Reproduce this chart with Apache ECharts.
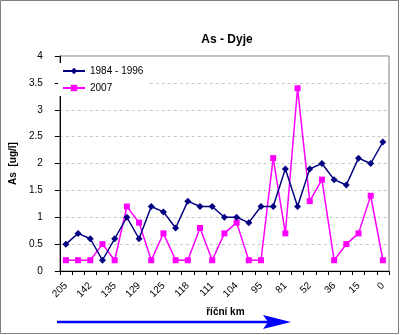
<!DOCTYPE html>
<html>
<head>
<meta charset="utf-8">
<script src="https://cdn.jsdelivr.net/npm/echarts@6/dist/echarts.min.js"></script>
<style>
  html, body { margin: 0; padding: 0; background: #fff; }
  #chart { width: 400px; height: 335px; }
</style>
</head>
<body>
<div id="chart"></div>
<script>
// River km tick labels (every second station is labelled)
var kmLabels = ['205', '142', '135', '129', '125', '118', '111', '104', '95', '81', '52', '36', '15', '0'];

// 27 sampling stations along the river
var stationCount = 27;

// Arsenic concentrations, µg/l
var as1984_1996 = [0.5, 0.7, 0.6, 0.2, 0.6, 1.0, 0.6, 1.2, 1.1, 0.8, 1.3, 1.2, 1.2, 1.0, 1.0, 0.9, 1.2, 1.2, 1.9, 1.2, 1.9, 2.0, 1.7, 1.6, 2.1, 2.0, 2.4];
var as2007 = [0.2, 0.2, 0.2, 0.5, 0.2, 1.2, 0.9, 0.2, 0.7, 0.2, 0.2, 0.8, 0.2, 0.7, 0.9, 0.2, 0.2, 2.1, 0.7, 3.4, 1.3, 1.7, 0.2, 0.5, 0.7, 1.4, 0.2];

var seriesNames = ['1984 - 1996', '2007'];

var categories = [];
for (var i = 0; i < stationCount; i++) {
  categories.push(i % 2 === 0 ? kmLabels[i / 2] : ' '.repeat((i + 1) / 2));
}

var FONT = 'Arial, "Liberation Sans", sans-serif';

var chart = echarts.init(document.getElementById('chart'), null, { renderer: 'canvas' });

chart.setOption({
  backgroundColor: '#ffffff',
  animation: false,
  title: {
    text: 'As - Dyje',
    left: 222,
    top: 29,
    textAlign: 'center',
    textStyle: { fontFamily: FONT, fontSize: 12, fontWeight: 'bold', color: '#000' }
  },
  legend: {
    orient: 'vertical',
    left: 58,
    top: 63,
    padding: [3, 4, 3, 4],
    backgroundColor: '#ffffff',
    itemWidth: 22,
    itemHeight: 8,
    itemGap: 7,
    textStyle: { fontFamily: FONT, fontSize: 10, color: '#000' },
    data: seriesNames
  },
  grid: {
    left: 55,
    right: 11,
    top: 56,
    bottom: 64,
    show: true,
    borderColor: '#808080',
    borderWidth: 1,
    backgroundColor: 'transparent'
  },
  xAxis: {
    type: 'category',
    data: categories,
    boundaryGap: true,
    name: 'říční km',
    nameLocation: 'middle',
    nameGap: 36,
    nameTextStyle: { fontFamily: FONT, fontSize: 10, fontWeight: 'bold', color: '#000', padding: [0, 0, 0, 2] },
    axisLine: { show: true, lineStyle: { color: '#000', width: 1 } },
    axisTick: { show: true, interval: 0, length: 4, lineStyle: { color: '#000' } },
    axisLabel: {
      interval: 1,
      rotate: 45,
      margin: 13,
      fontFamily: FONT,
      fontSize: 10,
      color: '#000'
    },
    splitLine: { show: false }
  },
  yAxis: {
    type: 'value',
    min: 0,
    max: 4,
    interval: 0.5,
    name: 'As  [ug/l]',
    nameLocation: 'middle',
    nameGap: 26,
    nameRotate: 90,
    nameTextStyle: { fontFamily: FONT, fontSize: 10, fontWeight: 'bold', color: '#000' },
    axisLine: { show: true, lineStyle: { color: '#000', width: 1 } },
    axisTick: { show: true, length: 5, lineStyle: { color: '#000' } },
    axisLabel: { margin: 17, fontFamily: FONT, fontSize: 10, color: '#000' },
    splitLine: { show: true, lineStyle: { color: '#c8c8c8', type: [3, 3], width: 1 } }
  },
  series: [
    {
      name: seriesNames[0],
      type: 'line',
      data: as1984_1996,
      symbol: 'diamond',
      symbolSize: 7,
      color: '#000080',
      lineStyle: { width: 1.5, color: '#000080' },
      itemStyle: { color: '#000080' },
      z: 3
    },
    {
      name: seriesNames[1],
      type: 'line',
      data: as2007,
      symbol: 'rect',
      symbolSize: 6,
      color: '#ff00ff',
      lineStyle: { width: 1.5, color: '#ff00ff' },
      itemStyle: { color: '#ff00ff' },
      z: 2
    }
  ],
  graphic: [
    {
      type: 'rect',
      shape: { x: 0.5, y: 0.5, width: 398, height: 333 },
      style: { fill: null, stroke: '#808080', lineWidth: 1 },
      silent: true
    },
    {
      type: 'line',
      shape: { x1: 57, y1: 322, x2: 268, y2: 322 },
      style: { stroke: '#0000ff', lineWidth: 2.5 },
      silent: true
    },
    {
      type: 'polygon',
      shape: { points: [[263, 315], [291, 322], [263, 329], [268, 322]] },
      style: { fill: '#0000ff' },
      silent: true
    }
  ]
});
</script>
</body>
</html>
